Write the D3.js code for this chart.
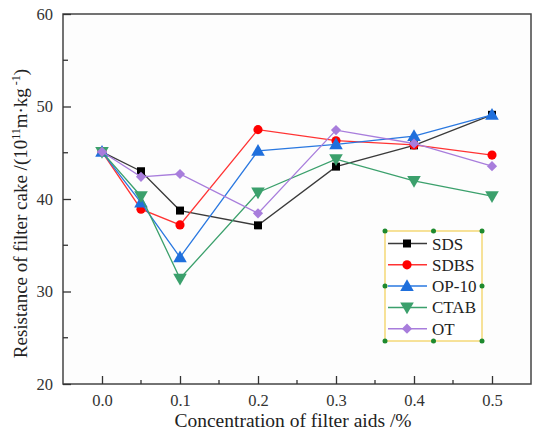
<!DOCTYPE html>
<html><head><meta charset="utf-8">
<script src="https://cdn.jsdelivr.net/npm/d3@7"></script>
<style>body{margin:0;background:#fff}svg{display:block}</style>
</head><body><svg id="c" width="539" height="435"></svg>
<script>
const concentrations = [0.0, 0.05, 0.1, 0.2, 0.3, 0.4, 0.5];
const seriesNames = ["SDS", "SDBS", "OP-10", "CTAB", "OT"];
const sds  = [45.1, 43.0, 38.75, 37.15, 43.5, 45.8, 49.1];
const sdbs = [45.1, 38.9, 37.2, 47.5, 46.3, 45.85, 44.75];
const op10 = [45.1, 39.6, 33.7, 45.2, 45.9, 46.8, 49.1];
const ctab = [45.1, 40.3, 31.4, 40.7, 44.3, 41.95, 40.3];
const ot   = [45.1, 42.4, 42.7, 38.45, 47.45, 46.0, 43.55];
const xTicks = [0.0, 0.1, 0.2, 0.3, 0.4, 0.5];
const yTicks = [20, 30, 40, 50, 60];

const FONT = "Liberation Serif";
const seriesValues = [sds, sdbs, op10, ctab, ot];
const colors = ["#000000", "#ff0000", "#1f6fdc", "#3ba06c", "#a87ddc"];
const lineColors = ["#3a3a3a", "#ff3333", "#2a78e0", "#3ba06c", "#a87ddc"];
const shapes = [d3.symbolSquare, d3.symbolCircle, d3.symbolTriangle, d3.symbolTriangle, d3.symbolSquare];
const sizes = [64, 66, 80, 80, 52];
const rot = [0, 0, 0, 180, 45];
const dy = [0, 0, 1, -1, 0];

const svg = d3.select("#c").attr("font-family", FONT);
const L = 63, R = 531, T = 14, B = 384;
const x = d3.scaleLinear().domain([-0.05, 0.55]).range([L, R]);
const y = d3.scaleLinear().domain([20, 60]).range([B, T]);

svg.append("rect").attr("x", L).attr("y", T).attr("width", R - L).attr("height", B - T)
  .attr("fill", "#fdfdfd").attr("stroke", "#444").attr("stroke-width", 1.5);

const gx = svg.append("g").attr("transform", `translate(0,${B})`);
gx.call(d3.axisBottom(x).tickValues(xTicks).tickFormat(d3.format(".1f")).tickSizeInner(-8).tickSizeOuter(0).tickPadding(10.5));
gx.attr("font-family", FONT);
gx.select(".domain").remove();
gx.selectAll(".tick line").attr("stroke", "#333").attr("stroke-width", 1.3);
gx.selectAll(".tick text").attr("font-size", 16.5).attr("fill", "#333").attr("font-family", FONT);
const xMinor = [0.05, 0.15, 0.25, 0.35, 0.45];
gx.selectAll("line.minor").data(xMinor).join("line").attr("class", "minor")
  .attr("x1", d => x(d)).attr("x2", d => x(d)).attr("y1", 0).attr("y2", -4)
  .attr("stroke", "#333").attr("stroke-width", 1.3);

const gy = svg.append("g").attr("transform", `translate(${L},0)`);
gy.call(d3.axisLeft(y).tickValues(yTicks).tickSizeInner(-8).tickSizeOuter(0).tickPadding(10));
gy.attr("font-family", FONT);
gy.select(".domain").remove();
gy.selectAll(".tick line").attr("stroke", "#333").attr("stroke-width", 1.3);
gy.selectAll(".tick text").attr("font-size", 16.5).attr("fill", "#333").attr("font-family", FONT);
const yMinor = [25, 35, 45, 55];
gy.selectAll("line.minor").data(yMinor).join("line").attr("class", "minor")
  .attr("x1", 0).attr("x2", 5).attr("y1", d => y(d)).attr("y2", d => y(d))
  .attr("stroke", "#333").attr("stroke-width", 1.3);

svg.append("text").attr("x", 293).attr("y", 427).attr("text-anchor", "middle")
  .attr("font-size", 19.5).attr("fill", "#222").attr("font-family", FONT).text("Concentration of filter aids /%");
const yt = svg.append("text").attr("transform", "translate(27,213.5) rotate(-90)").attr("text-anchor", "middle")
  .attr("font-size", 19).attr("fill", "#222").attr("font-family", FONT);
yt.append("tspan").text("Resistance of filter cake /(10");
yt.append("tspan").attr("font-size", 12).attr("dy", -7).text("11");
yt.append("tspan").attr("dy", 7).text("m·kg");
yt.append("tspan").attr("font-size", 12).attr("dy", -7).text(" -1");
yt.append("tspan").attr("dy", 7).text(")");

const line = d3.line().x((d, i) => x(concentrations[i])).y(d => y(d));
seriesValues.forEach((vals, s) => {
  svg.append("path").datum(vals).attr("d", line).attr("fill", "none")
    .attr("stroke", lineColors[s]).attr("stroke-width", 1.3);
  svg.append("g").selectAll("path").data(vals).join("path")
    .attr("d", d3.symbol().type(shapes[s]).size(sizes[s]))
    .attr("transform", (d, i) => `translate(${x(concentrations[i])},${y(d) + dy[s]}) rotate(${rot[s]})`)
    .attr("fill", colors[s]);
});

const lg = svg.append("g");
const lx0 = 385, lx1 = 482, ly0 = 231, ly1 = 341;
lg.append("rect").attr("x", lx0).attr("y", ly0).attr("width", lx1 - lx0).attr("height", ly1 - ly0)
  .attr("fill", "#fff").attr("stroke", "#f2cf55").attr("stroke-width", 1.2);
seriesNames.forEach((name, s) => {
  const yy = 243.5 + s * 21.3;
  lg.append("line").attr("x1", 388).attr("x2", 427).attr("y1", yy).attr("y2", yy)
    .attr("stroke", lineColors[s]).attr("stroke-width", 1.5);
  lg.append("path").attr("d", d3.symbol().type(shapes[s]).size(sizes[s]))
    .attr("transform", `translate(407,${yy + dy[s]}) rotate(${rot[s]})`).attr("fill", colors[s]);
  lg.append("text").attr("x", 432).attr("y", yy + 6).attr("font-size", 17).attr("fill", "#222")
    .attr("font-family", FONT).text(name);
});
const handles = [[lx0, ly0], [(lx0 + lx1) / 2, ly0], [lx1, ly0], [lx0, (ly0 + ly1) / 2], [lx1, (ly0 + ly1) / 2], [lx0, ly1], [(lx0 + lx1) / 2, ly1], [lx1, ly1]];
lg.selectAll("circle").data(handles).join("circle").attr("cx", d => d[0]).attr("cy", d => d[1]).attr("r", 2.5).attr("fill", "#1e8a2e");
</script></body></html>
